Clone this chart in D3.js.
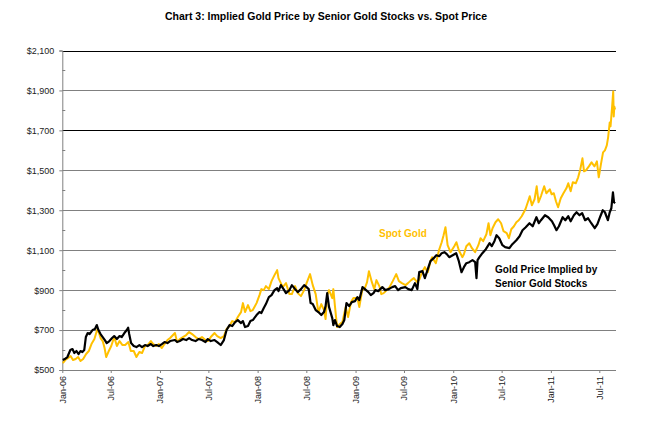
<!DOCTYPE html>
<html><head><meta charset="utf-8">
<script src="https://cdn.jsdelivr.net/npm/d3@7"></script>
<style>
html,body{margin:0;padding:0;background:#fff;}
svg{display:block;font-family:"Liberation Sans",Arial,sans-serif;}
</style></head>
<body><svg id="c" width="648" height="422"></svg>
<script>
const chartTitle = "Chart 3: Implied Gold Price by Senior Gold Stocks vs. Spot Price";
const seriesNames = ["Spot Gold", "Gold Price Implied by", "Senior Gold Stocks"];
const yTicks = [500, 700, 900, 1100, 1300, 1500, 1700, 1900, 2100];
const yMinorTicks = [600, 800, 1000, 1200, 1400, 1600, 1800, 2000];
const xTickDates = ["2006-01-01","2006-07-01","2007-01-01","2007-07-01","2008-01-01","2008-07-01","2009-01-01","2009-07-01","2010-01-01","2010-07-01","2011-01-01","2011-07-01"];

const spotGold = [
["2006-01-03",535],["2006-01-12",550],["2006-01-23",560],["2006-02-01",570],["2006-02-10",550],["2006-02-20",555],
["2006-03-01",565],["2006-03-10",545],["2006-03-20",555],["2006-03-31",580],["2006-04-10",595],["2006-04-20",630],
["2006-05-01",655],["2006-05-11",700],["2006-05-17",690],["2006-05-24",660],["2006-06-01",645],["2006-06-08",610],
["2006-06-14",565],["2006-06-22",590],["2006-07-03",620],["2006-07-14",665],["2006-07-24",620],["2006-08-03",645],
["2006-08-14",625],["2006-08-24",625],["2006-09-05",640],["2006-09-14",595],["2006-09-25",595],["2006-10-05",565],
["2006-10-16",590],["2006-10-26",585],["2006-11-06",620],["2006-11-16",625],["2006-11-28",645],["2006-12-07",630],
["2006-12-18",620],["2006-12-28",630],["2007-01-08",610],["2007-01-18",630],["2007-01-29",650],["2007-02-08",660],
["2007-02-26",685],["2007-03-06",640],["2007-03-16",655],["2007-03-28",665],["2007-04-09",675],["2007-04-20",690],
["2007-05-01",680],["2007-05-14",665],["2007-05-25",655],["2007-06-07",665],["2007-06-20",650],["2007-06-29",645],
["2007-07-10",665],["2007-07-24",685],["2007-08-03",670],["2007-08-16",660],["2007-08-28",670],["2007-09-07",705],
["2007-09-18",720],["2007-09-28",745],["2007-10-09",740],["2007-10-19",765],["2007-10-31",790],["2007-11-07",835],
["2007-11-15",790],["2007-11-26",825],["2007-12-05",795],["2007-12-14",800],["2007-12-28",835],["2008-01-08",875],
["2008-01-15",905],["2008-01-24",900],["2008-02-01",920],["2008-02-12",905],["2008-02-22",945],["2008-03-04",975],
["2008-03-14",1000],["2008-03-19",960],["2008-03-26",940],["2008-04-04",915],["2008-04-16",935],["2008-04-29",880],
["2008-05-08",880],["2008-05-20",920],["2008-05-30",885],["2008-06-11",870],["2008-06-23",900],["2008-07-02",935],
["2008-07-15",980],["2008-07-25",925],["2008-08-05",880],["2008-08-15",790],["2008-08-26",830],["2008-09-05",800],
["2008-09-11",755],["2008-09-17",875],["2008-09-24",900],["2008-10-06",860],["2008-10-10",905],["2008-10-16",820],
["2008-10-24",715],["2008-11-03",730],["2008-11-13",740],["2008-11-25",815],["2008-12-04",765],["2008-12-15",840],
["2008-12-24",860],["2009-01-08",860],["2009-01-15",815],["2009-01-26",900],["2009-02-05",910],["2009-02-13",940],
["2009-02-20",995],["2009-03-03",940],["2009-03-12",905],["2009-03-20",950],["2009-03-31",920],["2009-04-07",880],
["2009-04-16",885],["2009-04-28",900],["2009-05-08",915],["2009-05-20",945],["2009-06-02",980],["2009-06-12",945],
["2009-06-23",935],["2009-07-07",925],["2009-07-16",935],["2009-07-28",950],["2009-08-07",960],["2009-08-19",940],
["2009-08-28",955],["2009-09-08",995],["2009-09-17",1015],["2009-09-28",990],["2009-10-08",1045],["2009-10-14",1065],
["2009-10-28",1035],["2009-11-09",1100],["2009-11-19",1140],["2009-11-26",1175],["2009-12-03",1215],["2009-12-11",1125],
["2009-12-22",1090],["2010-01-05",1120],["2010-01-13",1140],["2010-01-22",1100],["2010-02-04",1065],["2010-02-10",1080],
["2010-02-19",1120],["2010-03-02",1135],["2010-03-12",1110],["2010-03-24",1090],["2010-04-05",1125],["2010-04-13",1160],
["2010-04-23",1145],["2010-05-05",1180],["2010-05-13",1235],["2010-05-20",1175],["2010-05-28",1210],["2010-06-08",1240],
["2010-06-18",1255],["2010-06-29",1235],["2010-07-08",1195],["2010-07-20",1185],["2010-07-28",1160],["2010-08-06",1205],
["2010-08-16",1220],["2010-08-25",1240],["2010-09-03",1250],["2010-09-14",1270],["2010-09-28",1305],["2010-10-08",1345],
["2010-10-14",1370],["2010-10-22",1325],["2010-11-01",1355],["2010-11-09",1420],["2010-11-16",1340],["2010-11-26",1375],
["2010-12-07",1420],["2010-12-15",1385],["2010-12-28",1405],["2011-01-04",1380],["2011-01-12",1385],["2011-01-20",1345],
["2011-01-28",1315],["2011-02-07",1360],["2011-02-17",1385],["2011-02-28",1410],["2011-03-07",1435],["2011-03-16",1395],
["2011-03-24",1440],["2011-04-04",1435],["2011-04-13",1465],["2011-04-21",1505],["2011-04-29",1560],["2011-05-05",1495],
["2011-05-12",1500],["2011-05-23",1520],["2011-06-02",1540],["2011-06-13",1520],["2011-06-22",1545],["2011-06-29",1465],
["2011-07-07",1530],["2011-07-15",1590],["2011-07-22",1600],["2011-07-29",1625],["2011-08-03",1665],["2011-08-09",1740],
["2011-08-12",1720],["2011-08-18",1820],["2011-08-22",1895],["2011-08-24",1770],["2011-08-26",1820],["2011-08-29",1805]
];

const impliedGold = [
["2006-01-03",550],["2006-01-10",555],["2006-01-20",565],["2006-01-31",600],["2006-02-08",605],["2006-02-15",585],
["2006-02-23",595],["2006-03-03",580],["2006-03-10",595],["2006-03-17",590],["2006-03-24",600],["2006-03-30",665],
["2006-04-06",685],["2006-04-13",680],["2006-04-24",700],["2006-05-03",705],["2006-05-10",725],["2006-05-16",700],
["2006-05-24",680],["2006-06-01",665],["2006-06-09",650],["2006-06-16",635],["2006-06-26",645],["2006-07-06",660],
["2006-07-14",670],["2006-07-24",655],["2006-08-03",670],["2006-08-11",665],["2006-08-21",685],["2006-08-30",700],
["2006-09-04",712],["2006-09-08",680],["2006-09-15",635],["2006-09-25",620],["2006-10-05",615],["2006-10-16",625],
["2006-10-26",615],["2006-11-06",625],["2006-11-16",620],["2006-11-28",630],["2006-12-07",620],["2006-12-18",625],
["2006-12-28",620],["2007-01-08",630],["2007-01-18",640],["2007-01-29",635],["2007-02-08",645],["2007-02-26",650],
["2007-03-06",640],["2007-03-16",645],["2007-03-28",655],["2007-04-09",650],["2007-04-20",660],["2007-05-01",650],
["2007-05-14",645],["2007-05-25",655],["2007-06-07",650],["2007-06-20",640],["2007-06-29",655],["2007-07-10",645],
["2007-07-24",650],["2007-08-03",640],["2007-08-16",625],["2007-08-28",650],["2007-09-07",700],["2007-09-18",725],
["2007-09-28",720],["2007-10-09",740],["2007-10-19",750],["2007-10-31",735],["2007-11-07",745],["2007-11-15",715],
["2007-11-26",720],["2007-12-05",745],["2007-12-14",750],["2007-12-28",775],["2008-01-08",790],["2008-01-15",785],
["2008-01-24",810],["2008-02-01",830],["2008-02-12",865],["2008-02-22",875],["2008-03-04",900],["2008-03-14",910],
["2008-03-19",895],["2008-03-28",925],["2008-04-07",905],["2008-04-16",885],["2008-04-29",900],["2008-05-08",925],
["2008-05-20",905],["2008-05-30",890],["2008-06-11",905],["2008-06-23",925],["2008-07-02",915],["2008-07-10",905],
["2008-07-17",835],["2008-07-25",830],["2008-08-05",800],["2008-08-15",790],["2008-08-26",775],["2008-09-05",790],
["2008-09-11",820],["2008-09-17",885],["2008-09-24",815],["2008-10-06",760],["2008-10-10",725],["2008-10-16",750],
["2008-10-24",720],["2008-11-03",715],["2008-11-13",730],["2008-11-20",750],["2008-11-28",835],["2008-12-08",820],
["2008-12-18",840],["2008-12-30",845],["2009-01-08",865],["2009-01-15",850],["2009-01-27",915],["2009-02-05",905],
["2009-02-18",890],["2009-02-27",875],["2009-03-09",885],["2009-03-16",900],["2009-03-27",895],["2009-04-11",915],
["2009-04-22",900],["2009-05-05",905],["2009-05-18",915],["2009-05-29",920],["2009-06-09",900],["2009-06-19",910],
["2009-07-06",915],["2009-07-17",905],["2009-07-30",900],["2009-08-11",935],["2009-08-20",905],["2009-08-27",990],
["2009-09-08",995],["2009-09-17",960],["2009-09-28",1005],["2009-10-08",1045],["2009-10-20",1060],["2009-10-30",1075],
["2009-11-10",1070],["2009-11-19",1085],["2009-11-29",1090],["2009-12-08",1080],["2009-12-17",1065],["2009-12-30",1075],
["2010-01-12",1085],["2010-01-22",1045],["2010-02-01",990],["2010-02-10",1015],["2010-02-19",1035],["2010-03-02",1040],
["2010-03-14",1050],["2010-03-24",1040],["2010-03-29",960],["2010-04-02",1050],["2010-04-09",1065],["2010-04-20",1085],
["2010-05-03",1105],["2010-05-17",1135],["2010-05-25",1120],["2010-06-04",1145],["2010-06-12",1175],["2010-06-22",1160],
["2010-07-04",1125],["2010-07-14",1115],["2010-07-30",1110],["2010-08-10",1130],["2010-08-25",1150],["2010-09-06",1170],
["2010-09-17",1200],["2010-09-29",1215],["2010-10-13",1235],["2010-10-25",1220],["2010-11-08",1265],["2010-11-17",1235],
["2010-11-25",1250],["2010-12-01",1260],["2010-12-10",1275],["2010-12-22",1265],["2011-01-05",1245],["2011-01-13",1225],
["2011-01-22",1200],["2011-01-31",1220],["2011-02-14",1265],["2011-02-24",1250],["2011-03-07",1270],["2011-03-16",1245],
["2011-03-28",1275],["2011-04-07",1290],["2011-04-18",1275],["2011-04-28",1285],["2011-05-09",1250],["2011-05-20",1260],
["2011-06-01",1235],["2011-06-14",1210],["2011-06-24",1230],["2011-07-05",1270],["2011-07-14",1300],["2011-07-22",1290],
["2011-08-02",1250],["2011-08-09",1290],["2011-08-15",1310],["2011-08-21",1390],["2011-08-25",1340],["2011-08-29",1335]
];

const parse = d3.timeParse("%Y-%m-%d");
const svg = d3.select("#c");
const plotLeft = 62.3, plotBottom = 370, plotTop = 50.5, axisEnd = 616;

const x = d3.scaleTime()
  .domain([parse("2006-01-01"), parse("2011-07-01")])
  .range([plotLeft, 599.3]);
const y = d3.scaleLinear().domain([500, 2100]).range([plotBottom, plotTop]);

svg.append("text").attr("x", 326).attr("y", 20).attr("text-anchor", "middle")
  .attr("font-size", 10.5).attr("font-weight", "bold").attr("fill", "#000")
  .text(chartTitle);

// gridlines
svg.append("g").selectAll("line").data(yTicks.filter(v => v > 500)).join("line")
  .attr("x1", plotLeft).attr("x2", axisEnd)
  .attr("y1", d => Math.round(y(d)) + 0.5).attr("y2", d => Math.round(y(d)) + 0.5)
  .attr("stroke", d => (d === 2100 || d === 1700) ? "#000" : "#808080").attr("stroke-width", 1);

// left axis
const yAxis = d3.axisLeft(y).tickValues(yTicks).tickSize(3).tickPadding(5)
  .tickFormat(d3.format("$,"));
const gy = svg.append("g").attr("transform", `translate(${plotLeft},0)`).call(yAxis);
gy.select(".domain").attr("stroke", "#808080");
gy.selectAll(".tick line").attr("stroke", "#808080");
gy.selectAll(".tick text").attr("font-size", 9).attr("fill", "#222")
  .attr("font-family", "Liberation Sans, Arial, sans-serif");
svg.append("g").selectAll("line").data(yMinorTicks).join("line")
  .attr("x1", plotLeft).attr("x2", plotLeft + 3)
  .attr("y1", d => Math.round(y(d)) + 0.5).attr("y2", d => Math.round(y(d)) + 0.5)
  .attr("stroke", "#808080");

// bottom axis
const xAxis = d3.axisBottom(x).tickValues(xTickDates.map(parse)).tickSize(3).tickPadding(4)
  .tickFormat(d3.timeFormat("%b-%y"));
const gx = svg.append("g").attr("transform", `translate(0,${plotBottom})`).call(xAxis);
gx.select(".domain").remove();
gx.append("line").attr("x1", plotLeft).attr("x2", axisEnd).attr("y1", 0.5).attr("y2", 0.5).attr("stroke", "#808080");
gx.selectAll(".tick line").attr("stroke", "#808080");
gx.selectAll(".tick text").attr("font-size", 9).attr("fill", "#222")
  .attr("font-family", "Liberation Sans, Arial, sans-serif")
  .attr("transform", "rotate(-90)").attr("text-anchor", "end")
  .attr("x", -6).attr("y", 0).attr("dy", "0.32em");

const line = d3.line().x(d => x(parse(d[0]))).y(d => y(d[1]));
svg.append("path").datum(spotGold).attr("d", line).attr("fill", "none")
  .attr("stroke", "#FFC000").attr("stroke-width", 2).attr("stroke-linejoin", "round");
svg.append("path").datum(impliedGold).attr("d", line).attr("fill", "none")
  .attr("stroke", "#000").attr("stroke-width", 2.2).attr("stroke-linejoin", "round");

// labels
svg.append("text").attr("x", 379).attr("y", 237).attr("font-size", 10).attr("font-weight", "bold")
  .attr("fill", "#FFC000").text(seriesNames[0]);
svg.append("text").attr("x", 495).attr("y", 273).attr("font-size", 10).attr("font-weight", "bold")
  .attr("fill", "#000").text(seriesNames[1]);
svg.append("text").attr("x", 495).attr("y", 287).attr("font-size", 10).attr("font-weight", "bold")
  .attr("fill", "#000").text(seriesNames[2]);
</script></body></html>
